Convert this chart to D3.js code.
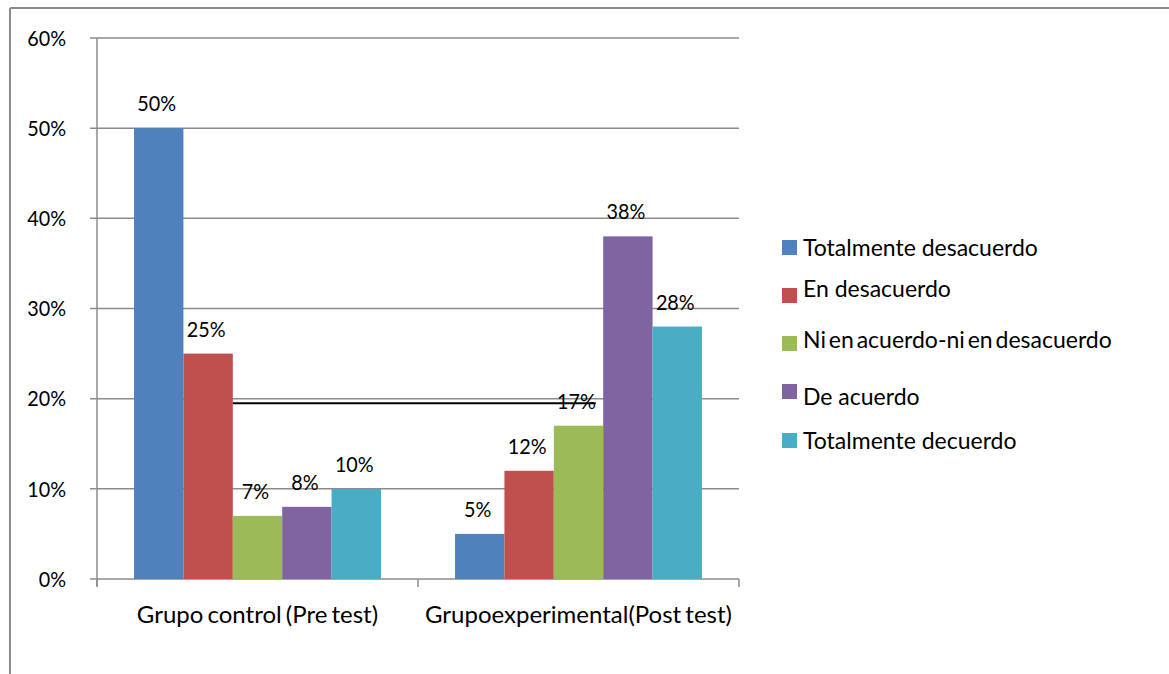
<!DOCTYPE html>
<html>
<head>
<meta charset="utf-8">
<script src="https://cdn.jsdelivr.net/npm/d3@7"></script>
<style>
  html, body { margin: 0; padding: 0; background: #fff; }
  svg { display: block; font-family: Lato, "Open Sans", sans-serif; }
</style>
</head>
<body>
<svg id="chart" width="1169" height="674"></svg>
<script>
// ---- data ----
const categories = ["Grupo control (Pre test)", "Grupo experimental (Post test)"];
const categoryLabels = ["Grupo control (Pre test)", "Grupoexperimental(Post test)"];
const seriesNames = [
  "Totalmente desacuerdo",
  "En desacuerdo",
  "Ni en acuerdo-ni en desacuerdo",
  "De acuerdo",
  "Totalmente decuerdo"
];
const seriesColors = ["#4F81BD", "#C0504D", "#9BBB59", "#8064A2", "#4BACC6"];
const preTest = [0.50, 0.25, 0.07, 0.08, 0.10];
const postTest = [0.05, 0.12, 0.17, 0.38, 0.28];
const yTicks = [0, 0.1, 0.2, 0.3, 0.4, 0.5, 0.6];
const strayLineValue = 0.195;

const values = [preTest, postTest];

// ---- layout ----
const svg = d3.select("#chart");
const plot = { left: 97, right: 739, top: 38, bottom: 579 };
const narrow = 0.9;   // horizontal squeeze to mimic a narrow face
const fmt = d3.format(".0%");

// outer frame (top + left)
svg.append("line").attr("x1", 10).attr("x2", 1169).attr("y1", 8).attr("y2", 8)
  .attr("stroke", "#8c8c8c").attr("stroke-width", 2);
svg.append("line").attr("x1", 10).attr("x2", 10).attr("y1", 8).attr("y2", 674)
  .attr("stroke", "#8c8c8c").attr("stroke-width", 2);

const y = d3.scaleLinear().domain([0, 0.6]).range([plot.bottom, plot.top]);
const x0 = d3.scaleBand().domain(categories).range([plot.left, plot.right]).paddingInner(0).paddingOuter(0);
const x1 = d3.scaleBand().domain(seriesNames).range([0, x0.bandwidth()]).paddingOuter(0.75).paddingInner(0);

// gridlines
svg.append("g").selectAll("line").data(yTicks).join("line")
  .attr("x1", plot.left - 7).attr("x2", plot.right)
  .attr("y1", d => y(d)).attr("y2", d => y(d))
  .attr("stroke", "#8c8c8c").attr("stroke-width", 1.5);

// y axis line
svg.append("line").attr("x1", plot.left).attr("x2", plot.left)
  .attr("y1", plot.top).attr("y2", plot.bottom + 7)
  .attr("stroke", "#8c8c8c").attr("stroke-width", 1.5);

// y tick labels
svg.append("g").selectAll("text").data(yTicks).join("text")
  .attr("transform", d => `translate(66,${y(d)}) scale(${narrow},1)`)
  .attr("dy", "0.35em")
  .attr("text-anchor", "end").attr("font-size", 22).attr("fill", "#000")
  .text(d => fmt(d));

// x ticks
const xTickPos = categories.map(c => x0(c)).concat([plot.right]);
svg.append("g").selectAll("line").data(xTickPos).join("line")
  .attr("x1", d => d).attr("x2", d => d)
  .attr("y1", plot.bottom).attr("y2", plot.bottom + 8)
  .attr("stroke", "#8c8c8c").attr("stroke-width", 1.5);

// x labels
svg.append("g").selectAll("text").data(categories).join("text")
  .attr("x", d => x0(d) + x0.bandwidth() / 2).attr("y", 623)
  .attr("text-anchor", "middle").attr("font-size", 24).attr("fill", "#000")
  .attr("word-spacing", "-2px")
  .text((d, i) => categoryLabels[i]);

// value labels (drawn under the bars)
categories.forEach((c, ci) => {
  svg.append("g").selectAll("text").data(values[ci]).join("text")
    .attr("transform", (d, si) =>
      `translate(${x0(c) + x1(seriesNames[si]) + x1.bandwidth() / 2 - 2},${y(d) - 17}) scale(${narrow},1)`)
    .attr("text-anchor", "middle").attr("font-size", 22).attr("fill", "#000")
    .text(d => fmt(d));
});

// bars
categories.forEach((c, ci) => {
  svg.append("g").selectAll("rect").data(values[ci]).join("rect")
    .attr("x", (d, si) => x0(c) + x1(seriesNames[si]))
    .attr("y", d => y(d))
    .attr("width", x1.bandwidth())
    .attr("height", d => y(0) - y(d))
    .attr("fill", (d, si) => seriesColors[si]);
});

// stray black line
svg.append("line")
  .attr("x1", x0(categories[0]) + x1(seriesNames[2]))
  .attr("x2", x0(categories[1]) + x1(seriesNames[2]) + x1.bandwidth() * 0.85)
  .attr("y1", y(strayLineValue)).attr("y2", y(strayLineValue))
  .attr("stroke", "#000").attr("stroke-width", 2);

// legend
const legendTop = [240, 288, 336, 384, 433];
const legendTextY = [256, 297, 348, 405, 449];
const lg = svg.append("g");
lg.selectAll("rect").data(seriesNames).join("rect")
  .attr("x", 782).attr("y", (d, i) => legendTop[i])
  .attr("width", 15).attr("height", 15)
  .attr("fill", (d, i) => seriesColors[i]);
lg.selectAll("text").data(seriesNames).join("text")
  .attr("x", 803).attr("y", (d, i) => legendTextY[i])
  .attr("font-size", 23).attr("fill", "#000")
  .attr("word-spacing", (d, i) => i === 2 ? "-3px" : "0px")
  .text(d => d);
</script>
</body>
</html>
